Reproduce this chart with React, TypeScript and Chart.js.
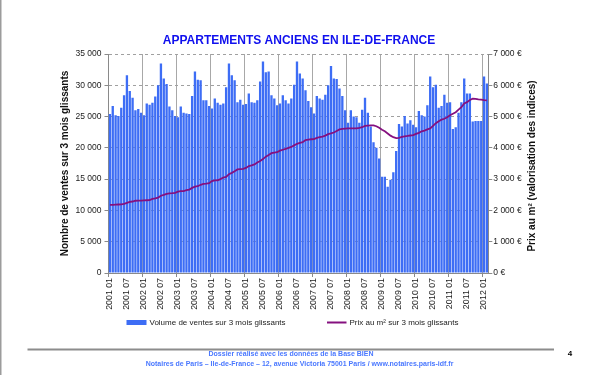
import React, { useEffect, useRef } from 'react';
import { Chart, registerables } from 'chart.js';

Chart.register(...registerables);

// ---------- DATA ----------
const YEARS = [2001, 2002, 2003, 2004, 2005, 2006, 2007, 2008, 2009, 2010, 2011, 2012];
const MONTHS = ['01', '02', '03', '04', '05', '06', '07', '08', '09', '10', '11', '12'];
const LAST_YEAR_MONTHS = 2; // 2012 01, 2012 02

// Volume de ventes sur 3 mois glissants (left axis)
const vol2001 = [25400, 26700, 25200, 25100, 26400, 28400, 31600, 29100, 28000, 26000, 26200, 25600];
const vol2002 = [25200, 27100, 26900, 27200, 28200, 30000, 33500, 31100, 30200, 26600, 26000, 25100];
const vol2003 = [24900, 26600, 25600, 25500, 25400, 28300, 32200, 30900, 30800, 27600, 27600, 26700];
const vol2004 = [26300, 27900, 27200, 26900, 27100, 29700, 33500, 31600, 30800, 27300, 27700, 26900];
const vol2005 = [27000, 28700, 27300, 27200, 27600, 30600, 33800, 32100, 32200, 28400, 27900, 26800];
const vol2006 = [27100, 28400, 27600, 27100, 27900, 30100, 33800, 31900, 31100, 29200, 27500, 26500];
const vol2007 = [25500, 28300, 27900, 27700, 28500, 30000, 33100, 31100, 31000, 29500, 28300, 26000];
const vol2008 = [24000, 26000, 25000, 24900, 24000, 26100, 28000, 25600, 23400, 20900, 20000, 18300];
const vol2009 = [15400, 15400, 13800, 14900, 16100, 19500, 23800, 23400, 25100, 23900, 24400, 23700];
const vol2010 = [23300, 25900, 25200, 25000, 26800, 31400, 29700, 30100, 26400, 26700, 28500, 27200];
const vol2011 = [27300, 23000, 23300, 25600, 27300, 31100, 28700, 28700, 24200, 24300, 24300, 24300];
const vol2012 = [31400, 30300];

// Prix au m² sur 3 mois glissants (right axis, €)
const prix2001 = [2180, 2180, 2185, 2190, 2195, 2210, 2240, 2270, 2285, 2310, 2315, 2315];
const prix2002 = [2320, 2325, 2330, 2370, 2385, 2410, 2470, 2495, 2530, 2545, 2550, 2560];
const prix2003 = [2600, 2615, 2620, 2650, 2665, 2720, 2760, 2775, 2820, 2850, 2855, 2870];
const prix2004 = [2940, 2960, 2965, 3000, 3050, 3070, 3160, 3200, 3250, 3310, 3320, 3330];
const prix2005 = [3360, 3420, 3440, 3470, 3530, 3580, 3640, 3720, 3770, 3830, 3850, 3860];
const prix2006 = [3910, 3940, 3970, 4000, 4030, 4080, 4130, 4160, 4180, 4250, 4265, 4275];
const prix2007 = [4280, 4320, 4340, 4360, 4390, 4440, 4460, 4490, 4540, 4590, 4605, 4615];
const prix2008 = [4620, 4620, 4620, 4625, 4640, 4660, 4700, 4710, 4720, 4720, 4690, 4640];
const prix2009 = [4580, 4530, 4460, 4390, 4340, 4310, 4320, 4350, 4370, 4380, 4395, 4410];
const prix2010 = [4445, 4480, 4530, 4550, 4590, 4620, 4700, 4790, 4850, 4900, 4930, 4980];
const prix2011 = [5040, 5090, 5140, 5220, 5300, 5420, 5460, 5530, 5570, 5565, 5550, 5540];
const prix2012 = [5525, 5520];

const LEFT_TICK_STEP = 5000;
const LEFT_MAX = 35000;
const RIGHT_TICK_STEP = 1000;
const RIGHT_MAX = 7000;

const TITLE = 'APPARTEMENTS ANCIENS EN ILE-DE-FRANCE';
const LEFT_TITLE = 'Nombre de ventes sur 3 mois glissants';
const RIGHT_TITLE = 'Prix au m² (valorisation des indices)';
const BAR_LABEL = 'Volume de ventes sur 3 mois glissants';
const LINE_LABEL = 'Prix au m² sur 3 mois glissants';
const FOOTER_1 = 'Dossier réalisé avec les données de la Base BIEN';
const FOOTER_2 = 'Notaires de Paris – Ile-de-France – 12, avenue Victoria 75001 Paris / www.notaires.paris-idf.fr';
const PAGE_NUM = '4';

// ---------- derived tables ----------
const labels: string[] = [];
YEARS.forEach((y, yi) => {
  const n = yi === YEARS.length - 1 ? LAST_YEAR_MONTHS : 12;
  for (let m = 0; m < n; m++) labels.push(`${y} ${MONTHS[m]}`);
});
const volumes = [
  ...vol2001, ...vol2002, ...vol2003, ...vol2004, ...vol2005, ...vol2006,
  ...vol2007, ...vol2008, ...vol2009, ...vol2010, ...vol2011, ...vol2012,
];
const prices = [
  ...prix2001, ...prix2002, ...prix2003, ...prix2004, ...prix2005, ...prix2006,
  ...prix2007, ...prix2008, ...prix2009, ...prix2010, ...prix2011, ...prix2012,
];

const FONT = '"Liberation Sans", Arial, Helvetica, sans-serif';
const BAR_COLOR = '#3d6df5';
const LINE_COLOR = '#85107f';
const AXIS_COLOR = '#8a8a8a';

const fmt = (v: number) => String(v).replace(/\B(?=(\d{3})+(?!\d))/g, ' ');

const textPlugin = {
  id: 'extraTexts',
  afterDraw(chart: any) {
    const ctx = chart.ctx as CanvasRenderingContext2D;
    ctx.save();
    // slide left frame
    ctx.fillStyle = '#9c9c9c';
    ctx.fillRect(0, 0, 1.5, 375);

    // title
    ctx.fillStyle = '#1010ee';
    ctx.font = `bold 12px ${FONT}`;
    ctx.textAlign = 'center';
    ctx.textBaseline = 'middle';
    ctx.fillText(TITLE, 299, 41);

    // right axis title (rotated, reading bottom to top)
    ctx.save();
    ctx.translate(532, 166);
    ctx.rotate(-Math.PI / 2);
    ctx.fillStyle = '#111';
    ctx.font = `bold 10px ${FONT}`;
    ctx.fillText(RIGHT_TITLE, 0, 0);
    ctx.restore();

    // legend
    ctx.fillStyle = BAR_COLOR;
    ctx.fillRect(126.5, 320, 20, 5);
    ctx.strokeStyle = LINE_COLOR;
    ctx.lineWidth = 2;
    ctx.beginPath();
    ctx.moveTo(327, 322.5);
    ctx.lineTo(346.5, 322.5);
    ctx.stroke();
    ctx.fillStyle = '#222';
    ctx.font = `8px ${FONT}`;
    ctx.textAlign = 'left';
    ctx.fillText(BAR_LABEL, 149.5, 322.5);
    ctx.fillText(LINE_LABEL, 349.5, 322.5);

    // footer
    ctx.strokeStyle = '#8c8c8c';
    ctx.lineWidth = 2;
    ctx.beginPath();
    ctx.moveTo(27.5, 349.5);
    ctx.lineTo(554, 349.5);
    ctx.stroke();
    ctx.fillStyle = '#4a78ff';
    ctx.font = `bold 7px ${FONT}`;
    ctx.textAlign = 'center';
    ctx.fillText(FOOTER_1, 291, 354.5);
    ctx.fillText(FOOTER_2, 299.5, 364);
    ctx.fillStyle = '#000';
    ctx.font = `bold 8px ${FONT}`;
    ctx.fillText(PAGE_NUM, 570, 353.5);
    ctx.restore();
  },
};

export default function App() {
  const canvasRef = useRef<HTMLCanvasElement | null>(null);

  useEffect(() => {
    document.body.style.margin = '0';
    const canvas = canvasRef.current;
    if (!canvas) return;
    const yearColor = (c: any) => (c.index % 12 === 0 ? '#a8a8a8' : 'rgba(0,0,0,0)');
    const chart = new Chart(canvas, {
      type: 'bar',
      data: {
        labels,
        datasets: [
          {
            type: 'line',
            label: LINE_LABEL,
            data: prices,
            yAxisID: 'y1',
            borderColor: LINE_COLOR,
            backgroundColor: LINE_COLOR,
            borderWidth: 1.8,
            pointRadius: 0,
            tension: 0,
            order: 0,
          } as any,
          {
            type: 'bar',
            label: BAR_LABEL,
            data: volumes,
            yAxisID: 'y',
            backgroundColor: BAR_COLOR,
            barPercentage: 0.82,
            categoryPercentage: 1,
            order: 1,
          } as any,
        ],
      },
      options: {
        animation: false,
        responsive: false,
        maintainAspectRatio: false,
        layout: { padding: { top: 54, left: 59, right: 0, bottom: 0 } },
        plugins: {
          legend: { display: false },
          title: { display: false },
          tooltip: { enabled: false },
        },
        scales: {
          x: {
            offset: true,
            grid: {
              offset: true,
              color: yearColor,
              tickColor: (c: any) => (c.index % 12 === 0 ? AXIS_COLOR : 'rgba(0,0,0,0)'),
              tickLength: 4,
              lineWidth: 1,
            },
            border: { color: AXIS_COLOR },
            ticks: {
              autoSkip: false,
              minRotation: 90,
              maxRotation: 90,
              padding: 1,
              color: '#222',
              font: { family: FONT, size: 8.8 },
              callback: (_v: any, i: number) => (i % 6 === 0 ? labels[i] : ''),
            },
            afterFit: (s: any) => {
              s.height = 102;
            },
          },
          y: {
            position: 'left',
            min: 0,
            max: LEFT_MAX,
            ticks: {
              stepSize: LEFT_TICK_STEP,
              padding: 3,
              color: '#222',
              font: { family: FONT, size: 8.5 },
              callback: (v: any) => fmt(Number(v)),
            },
            grid: { color: '#a0a0a0', tickColor: AXIS_COLOR, tickLength: 4 },
            border: { color: AXIS_COLOR, dash: [3, 3] },
            title: {
              display: true,
              text: LEFT_TITLE,
              color: '#111',
              padding: 0,
              font: { family: FONT, size: 10, weight: 'bold' },
            },
            afterFit: (s: any) => {
              s.width = 49.5;
            },
          },
          y1: {
            position: 'right',
            min: 0,
            max: RIGHT_MAX,
            ticks: {
              stepSize: RIGHT_TICK_STEP,
              padding: 1,
              color: '#222',
              font: { family: FONT, size: 8.5 },
              callback: (v: any) => `${fmt(Number(v))} €`,
            },
            grid: { drawOnChartArea: false, tickColor: AXIS_COLOR, tickLength: 4 },
            border: { color: AXIS_COLOR },
            afterFit: (s: any) => {
              s.width = 111.7;
            },
          },
        },
      } as any,
      plugins: [textPlugin],
    });
    return () => chart.destroy();
  }, []);

  return (
    <div style={{ width: 600, height: 375, position: 'relative', background: '#fff' }}>
      <canvas ref={canvasRef} width={600} height={375} style={{ display: 'block' }} />
    </div>
  );
}
